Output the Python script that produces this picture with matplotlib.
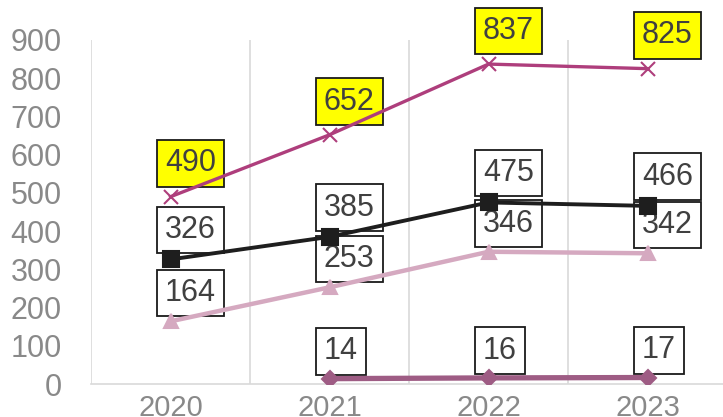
import numpy as np
import matplotlib
matplotlib.use("Agg")
import matplotlib.pyplot as plt

plt.rcParams['font.family'] = ['Liberation Sans', 'DejaVu Sans']

# data
years = ['2020', '2021', '2022', '2023']
serie_magenta = [490, 652, 837, 825]
serie_musta = [326, 385, 475, 466]
serie_roosa = [164, 253, 346, 342]
serie_violetti = [np.nan, 14, 16, 17]

fig = plt.figure(figsize=(7.23, 4.17), dpi=100)
ax = fig.add_axes([0.1259, 0.0791, 0.8797, 0.825])
x = np.arange(len(years))

# (values, color, marker, markersize, linewidth, label face, gap above point in px)
sarjat = [
    (serie_roosa, '#D5A9C0', '^', 10, 3.2, 'white', 5),
    (serie_musta, '#1E1E1E', 's', 11, 2.8, 'white', 6),
    (serie_magenta, '#AE3E7C', 'x', 10, 2.4, '#FFFF00', 10),
    (serie_violetti, '#9E5C84', 'D', 8, 3.8, 'white', 4),
]

pad = 0.27
pad_px = pad * 22 / 72 * 100
z = 2
for arvot, vari, merkki, ms, lw, tausta, rako in sarjat:
    ax.plot(x, arvot, color=vari, marker=merkki, markersize=ms, linewidth=lw,
            markeredgewidth=1.5, zorder=z + 1)
    for xi, v in zip(x, arvot):
        if np.isnan(v):
            continue
        ax.annotate(str(int(v)), (xi, v), xytext=(-14 + pad_px, rako + pad_px),
                    textcoords='offset pixels', ha='left', va='bottom',
                    fontsize=22, color='#404040', zorder=z,
                    bbox=dict(boxstyle='square,pad=%.2f' % pad, fc=tausta, ec='#1A1A1A', lw=1.3))
    z += 2

ax.set_xlim(-0.5, 3.5)
ax.set_ylim(0, 900)
ax.set_xticks(x)
ax.set_xticklabels(years)
ax.set_xticks(np.arange(-0.5, 4, 1), minor=True)
ax.set_yticks(range(0, 901, 100))
ax.grid(axis='x', which='minor', color='#D9D9D9', linewidth=1.2)
ax.grid(axis='x', which='major', visible=False)
ax.tick_params(axis='both', which='both', length=0, labelsize=22, colors='#898989')
ax.tick_params(axis='y', pad=21)
ax.tick_params(axis='x', pad=7, labelsize=21)
for s in ['left', 'right', 'top']:
    ax.spines[s].set_visible(False)
ax.spines['bottom'].set_color('#D9D9D9')
ax.spines['bottom'].set_linewidth(1.2)

plt.savefig('out.png', dpi=100)
